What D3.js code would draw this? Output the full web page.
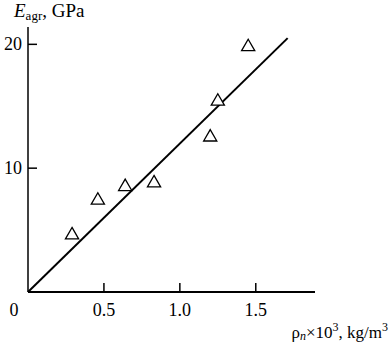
<!DOCTYPE html>
<html>
<head>
<meta charset="utf-8">
<script src="https://cdn.jsdelivr.net/npm/d3@7"></script>
<style>
  body { margin: 0; background: #fff; }
</style>
</head>
<body>
<div id="chart"></div>
<script>
// measured points (density x10^3 kg/m3, modulus GPa)
const density = [0.29, 0.46, 0.64, 0.83, 1.20, 1.25, 1.45]
const modulus = [4.6, 7.4, 8.5, 8.8, 12.5, 15.4, 19.8]
// fitted straight line, end points
const fitX = [0, 1.71]
const fitY = [0, 20.5]
const xTicks = [0.5, 1.0, 1.5]
const xTickLabels = ['0.5', '1.0', '1.5']
const yTicks = [10, 20]

const width = 390,
  height = 347
const svg = d3
  .select('#chart')
  .append('svg')
  .attr('width', width)
  .attr('height', height)
  .attr('font-family', "'Liberation Serif', 'Times New Roman', Times, serif")

const x = d3.scaleLinear().domain([0, 1.89]).range([28, 315])
const y = d3.scaleLinear().domain([0, 21.4]).range([292, 27])

const g = svg.append('g').attr('stroke', '#000').attr('fill', 'none')

// axes
g.append('line')
  .attr('x1', x(0)).attr('x2', x(0))
  .attr('y1', y(0)).attr('y2', y(21.4))
  .attr('stroke-width', 1.5)
g.append('line')
  .attr('x1', x(0)).attr('x2', x(1.89))
  .attr('y1', y(0)).attr('y2', y(0))
  .attr('stroke-width', 2)

// ticks point inward
g.selectAll('.xt')
  .data(xTicks)
  .enter()
  .append('line')
  .attr('x1', x).attr('x2', x)
  .attr('y1', y(0)).attr('y2', y(0) - 9)
  .attr('stroke-width', 1.5)
g.selectAll('.yt')
  .data(yTicks)
  .enter()
  .append('line')
  .attr('x1', x(0)).attr('x2', x(0) + 9)
  .attr('y1', y).attr('y2', y)
  .attr('stroke-width', 1.5)

svg.selectAll('.xl')
  .data(xTicks)
  .enter()
  .append('text')
  .attr('x', x)
  .attr('y', 316)
  .attr('text-anchor', 'middle')
  .attr('font-size', 18)
  .text((d, i) => xTickLabels[i])
svg.append('text')
  .attr('x', 14)
  .attr('y', 316)
  .attr('text-anchor', 'middle')
  .attr('font-size', 18)
  .text('0')
svg.selectAll('.yl')
  .data(yTicks)
  .enter()
  .append('text')
  .attr('x', 22)
  .attr('y', y)
  .attr('dy', '0.33em')
  .attr('text-anchor', 'end')
  .attr('font-size', 18)
  .text(d => d)

// fit line
g.append('line')
  .attr('x1', x(fitX[0])).attr('y1', y(fitY[0]))
  .attr('x2', x(fitX[1])).attr('y2', y(fitY[1]))
  .attr('stroke-width', 2)

// open triangles
const tri = d3.symbol().type(d3.symbolTriangle).size(75)
g.selectAll('.pt')
  .data(density)
  .enter()
  .append('path')
  .attr('d', tri)
  .attr('transform', (d, i) => 'translate(' + x(d) + ',' + y(modulus[i]) + ')')
  .attr('fill', '#fff')
  .attr('stroke-width', 1.3)

// axis titles
const yt = svg.append('text').attr('x', 14).attr('y', 17).attr('font-size', 19)
yt.append('tspan').attr('font-style', 'italic').text('E')
yt.append('tspan').attr('font-size', 13).attr('dy', 3).text('agr')
yt.append('tspan').attr('dy', -3).text(', GPa')

const xt = svg
  .append('text')
  .attr('x', 388)
  .attr('y', 338)
  .attr('text-anchor', 'end')
  .attr('font-size', 17)
xt.append('tspan').text('ρ')
xt.append('tspan').attr('font-size', 12).attr('font-style', 'italic').attr('dy', 2).text('n')
xt.append('tspan').attr('dy', -2).text('×10')
xt.append('tspan').attr('font-size', 12).attr('dy', -7).text('3')
xt.append('tspan').attr('dy', 7).text(', kg/m')
xt.append('tspan').attr('font-size', 12).attr('dy', -7).text('3')
</script>
</body>
</html>
